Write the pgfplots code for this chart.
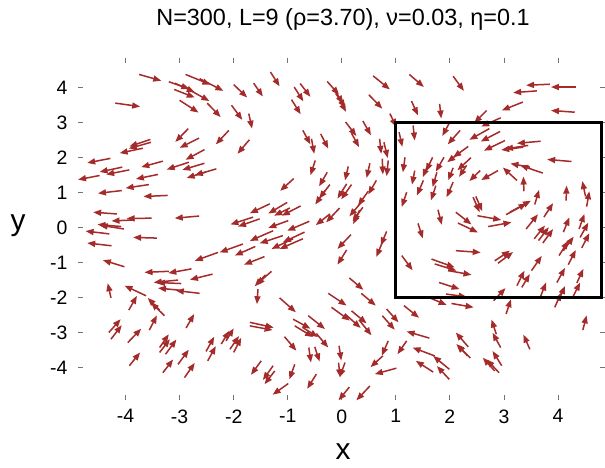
\documentclass[border=0pt]{standalone}
\usepackage{fontspec}
\setmainfont{Liberation Sans}
\usepackage{pgfplots}
\pgfplotsset{compat=1.18}
\usetikzlibrary{arrows.meta}
\definecolor{arrowred}{RGB}{165,42,42}
\pgfplotstableread{
x y u v
-3.75 4.38 0.41 -0.18
-2.89 4.38 0.46 -0.29
-2.63 4.26 0.44 -0.35
-3.20 4.17 0.38 -0.20
-3.09 4.13 0.37 -0.26
-3.10 3.95 0.38 -0.23
-2.81 3.93 0.36 -0.31
-2.00 4.09 0.25 -0.37
-1.63 4.13 0.17 -0.38
-4.19 3.56 0.46 -0.10
-3.00 3.64 0.35 -0.35
-2.49 3.56 0.25 -0.40
-2.04 3.50 0.20 -0.42
-1.72 3.26 0.06 -0.43
-2.84 2.83 -0.24 -0.38
-2.64 2.56 -0.36 -0.28
-2.09 2.78 -0.24 -0.40
-1.71 2.51 -0.22 -0.40
-3.54 2.52 -0.39 -0.20
-3.53 2.44 -0.41 -0.18
-3.68 2.27 -0.43 -0.14
-2.54 2.23 -0.35 -0.29
-4.28 1.98 -0.43 -0.13
-3.31 1.90 -0.40 -0.17
-2.83 1.87 -0.41 -0.21
-2.54 1.84 -0.41 -0.19
-4.06 1.73 -0.42 -0.14
-3.93 1.65 -0.43 -0.13
-2.32 1.68 -0.40 -0.18
-2.51 1.59 -0.36 -0.17
-3.40 1.52 -0.41 -0.13
-4.48 1.49 -0.40 -0.12
-1.32 4.45 0.17 -0.41
-0.88 4.02 0.17 -0.41
-0.77 4.12 0.19 -0.38
-0.27 4.18 0.22 -0.38
-0.15 3.95 0.18 -0.40
-0.11 3.83 0.18 -0.40
-0.07 3.73 0.15 -0.42
-0.93 3.66 0.17 -0.42
0.58 4.34 0.31 -0.39
1.25 4.38 0.27 -0.36
0.50 3.80 0.25 -0.40
1.29 3.62 0.12 -0.41
0.07 3.02 0.20 -0.40
0.18 2.70 0.14 -0.40
0.39 3.05 0.15 -0.41
-0.72 2.78 0.14 -0.40
-0.56 2.54 0.05 -0.43
-0.39 2.68 0.14 -0.42
0.89 3.26 0.12 -0.38
1.06 2.73 0.06 -0.42
1.32 2.92 0.03 -0.43
0.70 2.54 0.03 -0.43
0.78 2.44 0.07 -0.45
1.17 2.01 -0.04 -0.43
-0.49 1.92 -0.09 -0.42
-0.27 1.58 -0.15 -0.40
0.12 1.75 -0.06 -0.40
0.52 1.84 -0.06 -0.42
0.75 1.97 0.01 -0.45
0.86 1.92 -0.03 -0.45
1.35 1.63 -0.05 -0.40
1.60 1.82 -0.10 -0.38
2.06 4.33 0.20 -0.42
3.85 4.10 -0.44 -0.03
4.33 4.02 -0.46 0.00
3.61 3.91 -0.44 -0.05
3.35 3.59 -0.39 -0.24
4.31 3.30 -0.44 0.05
1.81 3.54 0.03 -0.42
2.68 3.35 -0.23 -0.36
2.94 3.14 -0.36 -0.25
2.00 3.02 -0.14 -0.40
2.19 2.78 -0.23 -0.40
2.73 2.83 -0.37 -0.32
2.93 2.75 -0.36 -0.29
3.02 2.49 -0.39 -0.29
3.68 2.47 -0.44 -0.06
3.45 2.35 -0.43 -0.10
3.36 2.30 -0.41 -0.08
4.25 1.89 -0.45 0.06
2.34 2.32 -0.28 -0.31
2.20 2.16 -0.25 -0.29
1.68 2.01 -0.12 -0.40
1.89 2.01 -0.15 -0.41
2.39 2.00 -0.25 -0.36
2.31 1.78 -0.14 -0.33
2.06 1.71 -0.09 -0.36
3.72 1.56 -0.42 0.22
3.48 1.73 -0.36 0.10
3.24 1.35 -0.26 0.37
2.56 1.63 -0.20 -0.30
2.89 1.63 -0.31 -0.27
-3.57 1.23 -0.43 -0.10
-4.07 1.06 -0.44 -0.08
-3.22 0.92 -0.45 -0.03
-4.16 0.39 -0.44 0.05
-3.52 0.27 -0.46 -0.01
-3.83 0.22 -0.43 -0.03
-2.64 0.33 -0.45 -0.06
-4.03 -0.04 -0.45 0.11
-4.30 -0.18 -0.44 0.08
-4.08 0.03 -0.44 0.06
-3.42 -0.30 -0.44 0.02
-4.26 -0.52 -0.45 0.08
-4.02 -1.12 -0.40 0.19
-3.20 -1.25 -0.45 -0.03
-2.78 -1.18 -0.43 -0.12
-2.39 -1.33 -0.42 -0.16
-3.03 -1.50 -0.45 -0.07
-1.83 -0.47 -0.43 -0.24
-2.29 -0.71 -0.43 -0.24
-1.60 -0.54 -0.38 -0.26
-1.43 -0.83 -0.38 -0.23
-1.64 0.30 -0.42 -0.21
-1.52 0.25 -0.40 -0.22
-0.89 1.40 -0.25 -0.35
-0.22 1.23 -0.20 -0.40
-0.31 1.06 -0.18 -0.40
0.18 1.23 -0.19 -0.42
0.09 1.25 -0.17 -0.42
0.64 1.35 -0.15 -0.40
0.49 1.04 -0.19 -0.41
0.36 0.72 -0.22 -0.40
0.39 0.58 -0.19 -0.40
0.33 0.50 -0.12 -0.40
-1.33 0.68 -0.37 -0.27
-1.01 0.72 -0.35 -0.32
-0.96 0.56 -0.29 -0.22
-0.76 0.62 -0.35 -0.28
-0.99 0.20 -0.37 -0.21
-0.60 0.18 -0.41 -0.27
-0.22 0.39 -0.26 -0.32
-0.04 0.56 -0.25 -0.41
-1.27 -0.09 -0.43 -0.29
-1.09 -0.23 -0.43 -0.22
-0.69 -0.13 -0.40 -0.29
-0.72 -0.32 -0.43 -0.29
-0.90 -0.32 -0.40 -0.29
0.17 -0.20 -0.25 -0.41
0.09 -0.64 -0.17 -0.42
0.83 -0.11 -0.11 -0.40
0.75 -0.42 -0.11 -0.42
-1.30 -1.25 -0.28 -0.38
-1.41 -1.35 -0.20 -0.33
0.14 -1.44 0.26 -0.34
1.11 -0.80 0.20 -0.42
1.41 0.12 0.09 -0.43
1.20 1.01 -0.09 -0.42
1.51 1.35 -0.12 -0.43
1.74 1.20 -0.09 -0.42
2.06 1.30 -0.12 -0.43
3.37 1.04 -0.01 0.42
1.78 0.51 0.07 -0.43
2.43 0.87 0.12 -0.43
2.48 0.89 0.12 -0.42
2.11 0.44 0.29 -0.35
2.15 0.13 0.37 -0.27
2.51 0.34 0.44 -0.12
2.71 0.03 0.43 0.12
3.04 0.37 0.38 0.32
3.11 0.44 0.39 0.33
3.57 0.66 0.08 0.42
3.74 0.30 0.17 0.40
3.41 -0.04 0.22 0.42
3.56 -0.32 0.20 0.38
3.64 -0.37 0.19 0.38
3.72 -0.44 0.19 0.40
4.15 0.77 0.01 0.43
4.10 -0.13 0.11 0.42
4.51 0.89 -0.06 0.44
4.53 0.60 0.05 0.44
4.39 -0.04 0.10 0.43
4.41 -0.28 0.15 0.42
4.44 -0.58 0.14 0.42
4.02 -0.80 0.17 0.42
4.10 -0.66 0.19 0.40
4.19 -1.06 0.14 0.42
3.98 -1.57 0.15 0.42
3.51 -1.23 0.19 0.42
2.83 -0.95 0.28 0.29
2.89 -1.02 0.28 0.32
2.11 -0.66 0.46 -0.05
1.66 -0.90 0.43 -0.24
1.72 -1.04 0.40 -0.19
1.97 -1.23 0.43 -0.12
1.80 -1.57 0.38 -0.19
3.24 -1.66 0.14 0.43
3.33 -1.71 0.15 0.38
1.76 1.58 -0.08 -0.42
4.35 -1.58 0.12 0.40
-4.27 -2.01 -0.06 0.42
-3.62 -1.95 -0.40 0.29
-3.28 -2.52 -0.25 0.38
-3.37 -2.36 -0.22 0.35
-3.94 -2.36 0.15 0.41
-3.56 -2.93 0.14 0.42
-2.88 -2.87 0.15 0.40
-4.31 -3.00 0.22 0.38
-4.27 -3.19 0.20 0.40
-3.96 -3.29 0.25 0.40
-3.93 -3.95 0.20 0.38
-3.37 -3.43 0.17 0.38
-3.37 -3.57 0.19 0.38
-3.26 -3.62 0.20 0.42
-3.31 -4.15 0.19 0.38
-3.03 -3.91 0.20 0.42
-2.91 -4.29 0.19 0.42
-2.51 -3.54 0.15 0.42
-2.48 -3.81 0.15 0.42
-2.23 -3.33 0.15 0.38
-2.14 -3.24 0.14 0.36
-2.07 -3.48 0.17 0.38
-2.00 -3.57 0.14 0.42
-1.55 -1.76 -0.02 -0.43
-1.70 -2.71 0.44 -0.15
-1.70 -2.81 0.42 -0.12
-2.97 -1.60 -0.45 0.03
-3.00 -1.79 -0.40 0.06
-2.63 -1.88 -0.44 0.08
-1.15 -2.01 0.30 -0.41
-0.90 -2.62 0.32 -0.27
-0.87 -2.81 0.34 -0.32
-0.62 -2.52 0.31 -0.38
-0.72 -2.86 0.28 -0.27
-0.47 -3.03 0.22 -0.40
-1.06 -3.12 0.22 -0.40
-0.61 -3.43 0.04 -0.43
-0.50 -3.41 0.09 -0.42
-0.05 -3.38 0.04 -0.42
0.06 -3.86 -0.10 -0.42
-0.06 -3.86 0.03 -0.42
-0.25 -1.88 0.34 -0.35
-0.19 -2.28 0.34 -0.38
0.06 -2.47 0.29 -0.40
0.18 -2.38 0.28 -0.36
0.33 -2.66 0.22 -0.42
0.36 -1.88 0.27 -0.35
0.83 -2.33 0.22 -0.38
0.75 -2.52 0.23 -0.40
1.15 -2.23 0.28 -0.35
1.62 -3.16 -0.42 0.19
1.72 -3.67 -0.41 0.24
1.69 -4.13 -0.32 0.32
0.86 -3.24 -0.12 -0.42
0.76 -3.67 -0.23 -0.32
1.20 -3.24 -0.17 -0.38
1.01 -4.02 -0.40 -0.17
-1.49 -3.81 -0.19 -0.40
-1.27 -3.95 -0.19 -0.41
-1.24 -4.10 -0.19 -0.38
-0.87 -3.91 -0.10 -0.43
-0.47 -4.19 -0.17 -0.42
-0.99 -4.46 -0.29 -0.32
0.14 -4.56 -0.20 -0.38
0.52 -4.53 -0.25 -0.41
1.93 -1.90 0.38 -0.08
1.58 -1.98 0.36 -0.23
2.03 -2.17 0.41 -0.11
2.81 -2.09 0.22 0.36
3.04 -2.47 0.09 0.42
3.67 -2.00 0.11 0.43
3.94 -2.28 0.12 0.42
4.01 -2.09 0.12 0.42
4.27 -2.00 0.14 0.43
4.46 -2.93 0.07 0.42
2.86 -3.05 -0.09 0.42
2.94 -3.43 -0.15 0.42
3.48 -3.48 -0.12 0.42
2.34 -3.41 -0.23 0.41
2.38 -3.73 -0.26 0.40
2.33 -3.67 -0.20 0.32
2.96 -3.95 -0.17 0.42
2.91 -4.15 -0.23 0.38
2.83 -4.10 -0.22 0.38
1.99 -4.34 -0.23 0.38
1.99 -4.05 -0.30 0.38
}\flock
\begin{document}
\begin{tikzpicture}
\begin{axis}[
  scale only axis,
  width=527bp, height=342bp,
  xmin=-4.88, xmax=4.87,
  ymin=-4.93, ymax=4.85,
  axis line style={draw=none},
  xtick={-4,-3,-2,-1,0,1,2,3,4},
  ytick={-4,-3,-2,-1,0,1,2,3,4},
  xticklabels={-4,-3,-2,-1,0,1,2,3,4},
  yticklabels={-4,-3,-2,-1,0,1,2,3,4},
  tick align=inside,
  major tick length=5bp,
  tick style={black!55, line width=0.8bp},
  ticklabel style={font=\fontsize{19.5}{19.5}\selectfont},
  xticklabel style={yshift=-6bp},
  yticklabel style={xshift=-7bp},
  clip=false,
]
\addplot[arrowred, line width=1.5bp, -{Triangle[length=8bp,width=6bp]},
  quiver={u=\thisrow{u}, v=\thisrow{v}}] table[x=x, y=y] {\flock};
\draw[black, line width=3bp] (axis cs:1,-2) rectangle (axis cs:4.8,3);
\end{axis}
\node[font=\fontsize{23.5}{23.5}\selectfont] at (265bp,381bp) {N=300, L=9 (ρ=3.70), ν=0.03, η=0.1};
\node[font=\fontsize{30}{30}\selectfont] at (265bp,-52bp) {x};
\node[font=\fontsize{30}{30}\selectfont] at (-60bp,174bp) {y};
\pgfresetboundingbox
\path[use as bounding box] (-78bp,-68bp) rectangle (527bp,400bp);
\end{tikzpicture}
\end{document}
